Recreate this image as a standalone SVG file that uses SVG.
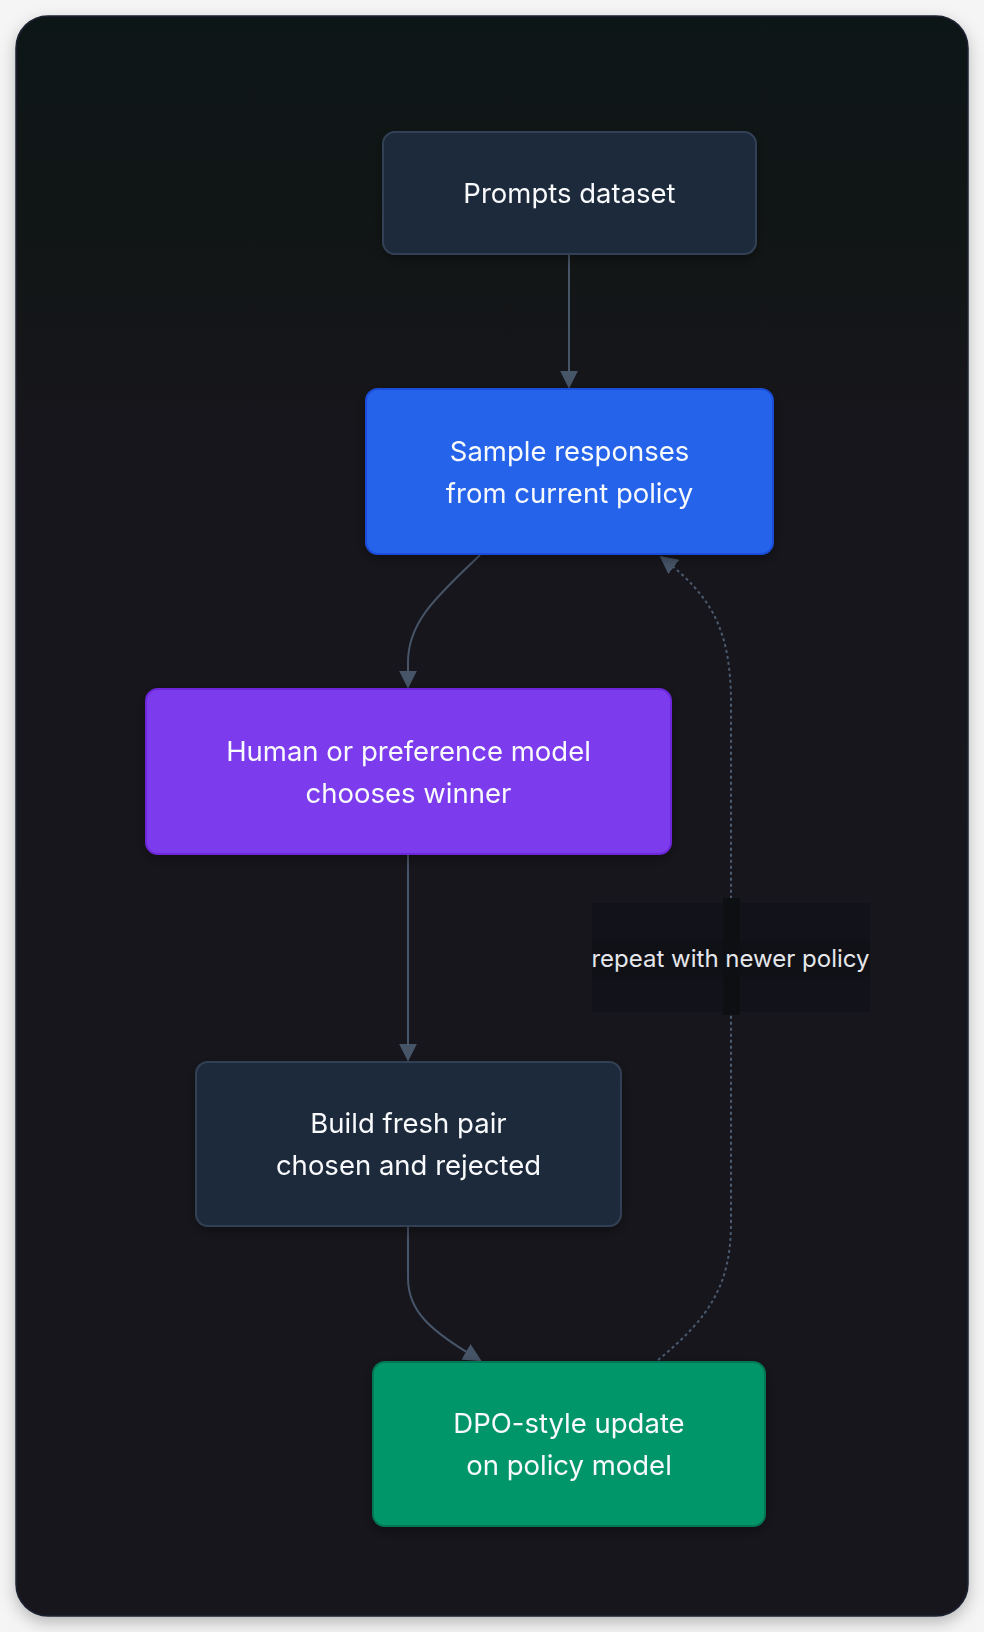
<svg xmlns="http://www.w3.org/2000/svg" width="984" height="1632" viewBox="0 0 984 1632">
<defs>
<linearGradient id="bg" x1="0" y1="0" x2="0" y2="1">
<stop offset="0" stop-color="#111318"/>
<stop offset="1" stop-color="#15161f"/>
</linearGradient>
<filter id="cardShadow" x="-10%" y="-10%" width="120%" height="120%">
<feDropShadow dx="0" dy="6" stdDeviation="8" flood-color="#000" flood-opacity="0.25"/>
</filter>
<filter id="nodeShadow" x="-20%" y="-20%" width="140%" height="150%">
<feDropShadow dx="0" dy="4" stdDeviation="6" flood-color="#000" flood-opacity="0.35"/>
</filter>
<marker id="arrowBig" viewBox="0 0 10 10" refX="9" refY="5" markerWidth="18" markerHeight="18" markerUnits="userSpaceOnUse" orient="auto">
<path d="M0,0 L10,5 L0,10 z" fill="#475569"/>
</marker>
</defs>
<style>
.node-text{font-family:Inter,"Noto Sans",sans-serif;font-size:27.5px;fill:#f8fafc;text-anchor:middle}
.label-text{font-family:Inter,"Noto Sans",sans-serif;font-size:24px;fill:#e5e7eb;text-anchor:middle}
.edge{fill:none;stroke:#475569;stroke-width:2}
.dashed{fill:none;stroke:#4b5a6e;stroke-width:2;stroke-dasharray:3 3}
.dark{fill:#1e293b;stroke:#334155;stroke-width:2}
</style>
<rect width="984" height="1632" fill="#f5f5f5"/>
<rect x="16" y="16" width="952" height="1600" rx="32" fill="url(#bg)" stroke="#1e2433" stroke-width="1.5" filter="url(#cardShadow)"/>

<g id="connectors">
<path class="edge" d="M569,254 L569,387" marker-end="url(#arrowBig)"/>
<path class="edge" d="M480,555 C440,594 408,620 408,662 L408,687" marker-end="url(#arrowBig)"/>
<path class="edge" d="M408,854 L408,1060" marker-end="url(#arrowBig)"/>
<path class="edge" d="M408,1226 L408,1278 C408,1310 428,1330 480,1360" marker-end="url(#arrowBig)"/>
<path class="dashed" d="M658,1360 C712,1316 731,1282 731,1222 L731,704 C731,630 712,596 661,557" marker-end="url(#arrowBig)"/>
<g id="edge-label">
<rect x="592" y="903" width="278" height="109" fill="#12131a"/>
<rect x="592" y="940" width="278" height="37" fill="#101116"/>
<rect x="723" y="898" width="17" height="117" fill="#0e0f13"/>
<text class="label-text" x="730.5" y="967">repeat with newer policy</text>
</g>
</g>

<g id="node-prompts" filter="url(#nodeShadow)">
<rect class="dark" x="383" y="132" width="373" height="122" rx="12"/>
<text class="node-text" x="569.5" y="203">Prompts dataset</text>
</g>
<g id="node-sample" filter="url(#nodeShadow)">
<rect x="366" y="389" width="407" height="165" rx="12" fill="#2563eb" stroke="#1d4ed8" stroke-width="2"/>
<text class="node-text" x="569.5" y="461">Sample responses</text>
<text class="node-text" x="569.5" y="503">from current policy</text>
</g>
<g id="node-human" filter="url(#nodeShadow)">
<rect x="146" y="689" width="525" height="165" rx="12" fill="#7c3aed" stroke="#6d28d9" stroke-width="2"/>
<text class="node-text" x="408.5" y="761">Human or preference model</text>
<text class="node-text" x="408.5" y="803">chooses winner</text>
</g>
<g id="node-build" filter="url(#nodeShadow)">
<rect class="dark" x="196" y="1062" width="425" height="164" rx="12"/>
<text class="node-text" x="408.5" y="1133">Build fresh pair</text>
<text class="node-text" x="408.5" y="1175">chosen and rejected</text>
</g>
<g id="node-dpo" filter="url(#nodeShadow)">
<rect x="373" y="1362" width="392" height="164" rx="12" fill="#059669" stroke="#047857" stroke-width="2"/>
<text class="node-text" x="569" y="1433">DPO-style update</text>
<text class="node-text" x="569" y="1475">on policy model</text>
</g>
</svg>
